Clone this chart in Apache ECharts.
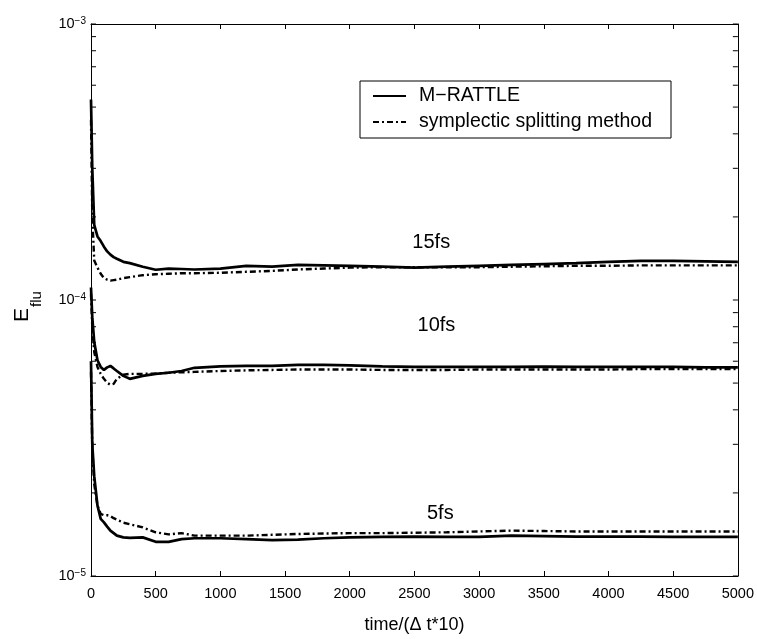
<!DOCTYPE html>
<html>
<head>
<meta charset="utf-8">
<script src="https://cdn.jsdelivr.net/npm/echarts@6/dist/echarts.min.js"></script>
<style>
  html, body { margin: 0; padding: 0; background: #fff; }
  #chart { width: 757px; height: 639px; }
</style>
</head>
<body>
<div id="chart"></div>
<script>
// ---- data ----
const TIME = [0, 10, 25, 50, 75, 100, 125, 150, 175, 200, 250, 300, 400, 500, 600, 700, 800,
  1000, 1200, 1400, 1600, 1800, 2000, 2250, 2500, 2750, 3000, 3250, 3500, 3750, 4000, 4250, 4500, 4750, 5000];

// 15 fs
const RATTLE_15 = [5.33e-4, 2.99e-4, 1.87e-4, 1.70e-4, 1.635e-4, 1.56e-4, 1.50e-4, 1.46e-4, 1.43e-4, 1.41e-4,
  1.375e-4, 1.36e-4, 1.32e-4, 1.287e-4, 1.30e-4, 1.295e-4, 1.29e-4, 1.30e-4, 1.33e-4, 1.32e-4, 1.34e-4,
  1.335e-4, 1.33e-4, 1.32e-4, 1.31e-4, 1.32e-4, 1.33e-4, 1.34e-4, 1.35e-4, 1.36e-4, 1.375e-4, 1.385e-4,
  1.385e-4, 1.38e-4, 1.375e-4];
const SPLIT_15 = [4.5e-4, 2.0e-4, 1.39e-4, 1.31e-4, 1.245e-4, 1.20e-4, 1.185e-4, 1.175e-4, 1.18e-4, 1.185e-4,
  1.20e-4, 1.21e-4, 1.23e-4, 1.24e-4, 1.245e-4, 1.25e-4, 1.25e-4, 1.255e-4, 1.265e-4, 1.275e-4, 1.29e-4,
  1.30e-4, 1.31e-4, 1.315e-4, 1.315e-4, 1.315e-4, 1.315e-4, 1.32e-4, 1.325e-4, 1.33e-4, 1.33e-4, 1.335e-4,
  1.335e-4, 1.335e-4, 1.335e-4];

// 10 fs
const RATTLE_10 = [1.11e-4, 8.65e-5, 7.04e-5, 6.05e-5, 5.72e-5, 5.58e-5, 5.70e-5, 5.77e-5, 5.65e-5, 5.53e-5,
  5.31e-5, 5.18e-5, 5.31e-5, 5.40e-5, 5.45e-5, 5.53e-5, 5.68e-5, 5.75e-5, 5.77e-5, 5.77e-5, 5.82e-5,
  5.82e-5, 5.80e-5, 5.75e-5, 5.72e-5, 5.72e-5, 5.72e-5, 5.72e-5, 5.74e-5, 5.72e-5, 5.72e-5, 5.72e-5,
  5.72e-5, 5.70e-5, 5.70e-5];
const SPLIT_10 = [1.05e-4, 7.96e-5, 6.48e-5, 5.72e-5, 5.40e-5, 5.18e-5, 5.01e-5, 4.93e-5, 4.97e-5, 5.18e-5,
  5.36e-5, 5.40e-5, 5.40e-5, 5.42e-5, 5.45e-5, 5.47e-5, 5.49e-5, 5.53e-5, 5.56e-5, 5.58e-5, 5.60e-5,
  5.60e-5, 5.60e-5, 5.58e-5, 5.58e-5, 5.58e-5, 5.60e-5, 5.60e-5, 5.60e-5, 5.60e-5, 5.60e-5, 5.62e-5,
  5.62e-5, 5.62e-5, 5.62e-5];

// 5 fs
const RATTLE_5 = [6.0e-5, 3.0e-5, 2.3e-5, 1.80e-5, 1.61e-5, 1.565e-5, 1.51e-5, 1.46e-5, 1.43e-5, 1.40e-5,
  1.38e-5, 1.375e-5, 1.38e-5, 1.33e-5, 1.33e-5, 1.36e-5, 1.37e-5, 1.37e-5, 1.36e-5, 1.35e-5, 1.355e-5,
  1.37e-5, 1.38e-5, 1.385e-5, 1.39e-5, 1.385e-5, 1.385e-5, 1.40e-5, 1.395e-5, 1.39e-5, 1.39e-5, 1.39e-5,
  1.385e-5, 1.385e-5, 1.385e-5];
const SPLIT_5 = [5.5e-5, 2.9e-5, 2.15e-5, 1.80e-5, 1.68e-5, 1.66e-5, 1.66e-5, 1.65e-5, 1.62e-5, 1.60e-5,
  1.56e-5, 1.54e-5, 1.50e-5, 1.44e-5, 1.415e-5, 1.43e-5, 1.40e-5, 1.40e-5, 1.40e-5, 1.41e-5, 1.42e-5,
  1.425e-5, 1.43e-5, 1.43e-5, 1.435e-5, 1.44e-5, 1.45e-5, 1.46e-5, 1.455e-5, 1.45e-5, 1.45e-5, 1.45e-5,
  1.45e-5, 1.45e-5, 1.45e-5];

const SERIES_NAMES = ['M\u2212RATTLE', 'symplectic splitting method'];
const CURVE_LABELS = ['15fs', '10fs', '5fs'];
const CURVE_LABEL_AT = [[2630, 1.61e-4], [2670, 8.1e-5], [2700, 1.68e-5]];

const Y_LABEL_VALUES = [1e-5, 1e-4, 1e-3];
const Y_TICK_VALUES = [1e-5, 2e-5, 3e-5, 4e-5, 5e-5, 6e-5, 7e-5, 8e-5, 9e-5,
  1e-4, 2e-4, 3e-4, 4e-4, 5e-4, 6e-4, 7e-4, 8e-4, 9e-4, 1e-3];

// ---- chart ----
const FONT = '"Liberation Sans", Arial, Helvetica, sans-serif';
const pairs = (xs, ys) => xs.map((x, i) => [x, ys[i]]);

const groups = [
  [RATTLE_15, SPLIT_15],
  [RATTLE_10, SPLIT_10],
  [RATTLE_5, SPLIT_5]
];

const solidStyle = { color: '#000', width: 2.7, type: 'solid' };
const dashStyle = { color: '#000', width: 2.4, type: [6, 3, 2, 3] };

const series = [];
groups.forEach((g, gi) => {
  series.push({
    name: SERIES_NAMES[0], type: 'line', data: pairs(TIME, g[0]),
    symbol: 'none', showSymbol: false, smooth: false,
    lineStyle: solidStyle, itemStyle: { color: '#000' },
    z: 2,
    markPoint: {
      symbol: 'circle', symbolSize: 0, silent: true,
      label: { show: true, position: 'inside', formatter: CURVE_LABELS[gi],
               fontSize: 20, color: '#000', fontFamily: FONT },
      data: [{ coord: CURVE_LABEL_AT[gi] }]
    }
  });
});
groups.forEach((g) => {
  series.push({
    name: SERIES_NAMES[1], type: 'line', data: pairs(TIME, g[1]),
    symbol: 'none', showSymbol: false, smooth: false,
    lineStyle: dashStyle, itemStyle: { color: '#000' },
    z: 3
  });
});

// inward log ticks (major + minor) on the left and right frame edges, placed through the y scale
series.push({
  type: 'custom', name: 'yticks', silent: true, clip: false, z: 1,
  xAxisIndex: 0, yAxisIndex: 0,
  data: Y_TICK_VALUES.map(v => [0, v]),
  renderItem: function (params, api) {
    const cs = params.coordSys;
    const y = api.coord([0, api.value(1)])[1];
    return {
      type: 'group',
      children: [
        { type: 'line', shape: { x1: cs.x, y1: y, x2: cs.x + 5, y2: y },
          style: { stroke: '#000', lineWidth: 1 } },
        { type: 'line', shape: { x1: cs.x + cs.width - 5, y1: y, x2: cs.x + cs.width, y2: y },
          style: { stroke: '#000', lineWidth: 1 } }
      ]
    };
  }
});

const supLabel = (v) => {
  const e = Math.round(Math.log10(v));
  return '{b|10}{s|' + String(e).replace('-', '\u2212') + '}';
};

const commonY = {
  type: 'log', logBase: 10, min: 1e-5, max: 1e-3,
  splitLine: { show: false },
  axisLine: { show: true, onZero: false, lineStyle: { color: '#000', width: 1 } },
  axisTick: { show: false }
};

const option = {
  animation: false,
  backgroundColor: '#fff',
  grid: { left: 91, right: 16, top: 24, bottom: 58, containLabel: false },
  legend: {
    orient: 'vertical', left: 360, top: 81,
    data: SERIES_NAMES,
    itemWidth: 33, itemHeight: 12, itemGap: 6,
    padding: [5, 19, 6, 12],
    borderColor: '#000', borderWidth: 1, backgroundColor: '#fff',
    itemStyle: { color: 'rgba(0,0,0,0)', borderColor: 'rgba(0,0,0,0)', borderWidth: 0 },
    textStyle: { fontSize: 19.5, color: '#000', fontFamily: FONT, padding: [0, 0, 0, 8] }
  },
  graphic: [
    {
      type: 'group', x: 0, y: 322, rotation: Math.PI / 2, silent: true,
      children: [
        { type: 'text', x: 0, y: 22.5,
          style: { text: 'E', font: '21px ' + FONT, fill: '#000', align: 'left', verticalAlign: 'middle' } },
        { type: 'text', x: 15, y: 37,
          style: { text: 'flu', font: '15px ' + FONT, fill: '#000', align: 'left', verticalAlign: 'middle' } }
      ]
    }
  ],
  xAxis: [
    {
      type: 'value', min: 0, max: 5000, interval: 500, position: 'bottom',
      name: 'time/(\u0394 t*10)', nameLocation: 'middle', nameGap: 40,
      nameTextStyle: { fontSize: 18, color: '#000', fontFamily: FONT },
      splitLine: { show: false },
      axisLine: { show: true, onZero: false, lineStyle: { color: '#000', width: 1 } },
      axisTick: { show: true, inside: true, length: 5, lineStyle: { color: '#000' } },
      axisLabel: { show: true, color: '#000', fontSize: 14.5, fontFamily: FONT, margin: 10,
                   formatter: (v) => String(v) }
    },
    {
      type: 'value', min: 0, max: 5000, interval: 500, position: 'top',
      splitLine: { show: false },
      axisLine: { show: true, onZero: false, lineStyle: { color: '#000', width: 1 } },
      axisTick: { show: true, inside: true, length: 5, lineStyle: { color: '#000' } },
      axisLabel: { show: false }
    }
  ],
  yAxis: [
    Object.assign({}, commonY, {
      position: 'left',
      axisLabel: {
        show: true, margin: 5, customValues: Y_LABEL_VALUES,
        formatter: supLabel,
        rich: {
          b: { fontSize: 14.5, lineHeight: 15, verticalAlign: 'bottom', color: '#000', fontFamily: FONT },
          s: { fontSize: 10, lineHeight: 10, verticalAlign: 'top', padding: [0, 0, 10, 0],
               color: '#000', fontFamily: FONT }
        }
      }
    }),
    Object.assign({}, commonY, {
      position: 'right',
      axisLabel: { show: false }
    })
  ],
  series: series
};

const chart = echarts.init(document.getElementById('chart'), null, { renderer: 'canvas' });
chart.setOption(option);
</script>
</body>
</html>
